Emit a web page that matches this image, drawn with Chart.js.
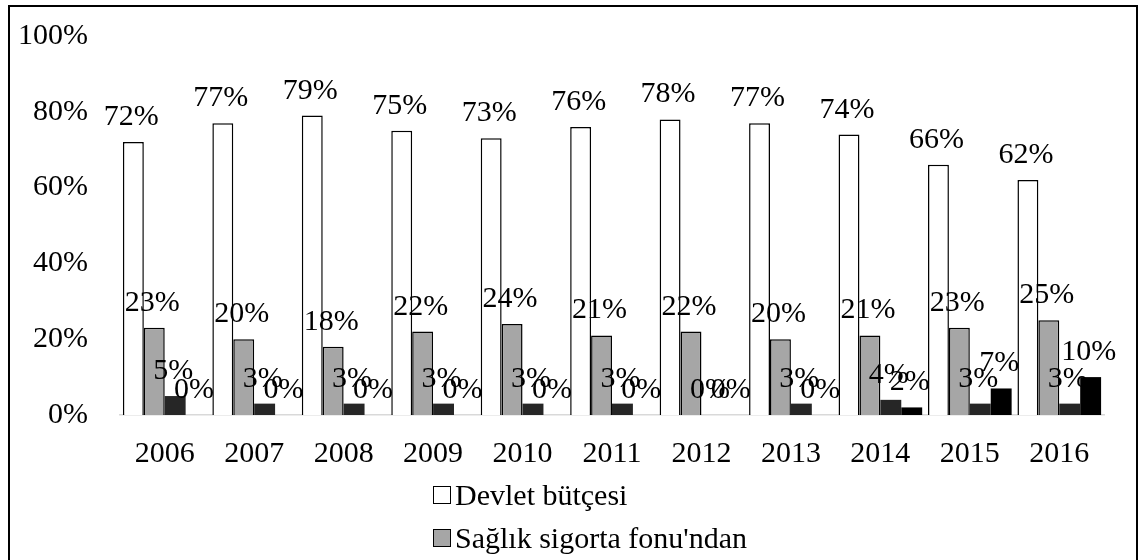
<!DOCTYPE html>
<html>
<head>
<meta charset="utf-8">
<script src="https://cdn.jsdelivr.net/npm/chart.js@4.4.1/dist/chart.umd.min.js"></script>
<style>
  html, body { margin: 0; padding: 0; background: #fff; overflow: hidden; }
  .frame {
    position: absolute; left: 8px; top: 5px;
    width: 1130px; height: 700px;
    border: 2px solid #000; box-sizing: border-box;
  }
  #wrap { position: absolute; left: 0; top: 0; width: 1126px; height: 468px; }
  .legend {
    position: absolute; left: 423px; top: 466px;
    font-family: "Liberation Serif", "Times New Roman", serif;
    font-size: 30px; color: #000;
  }
  .legend .item { display: flex; align-items: center; height: 43px; }
  .legend .box { width: 16px; height: 16px; border: 1px solid #000; margin-right: 4px; }
</style>
</head>
<body>
<div class="frame">
  <div id="wrap"><canvas id="chart"></canvas></div>
  <div class="legend" id="legend"></div>
</div>
<script>
const years = ["2006", "2007", "2008", "2009", "2010", "2011", "2012", "2013", "2014", "2015", "2016"];
const devletButcesi = [72, 77, 79, 75, 73, 76, 78, 77, 74, 66, 62];
const saglikSigorta = [23, 20, 18, 22, 24, 21, 22, 20, 21, 23, 25];
const ozelSigorta = [5, 3, 3, 3, 3, 3, 0, 3, 4, 3, 3];
const digerKaynak = [0, 0, 0, 0, 0, 0, 0, 0, 2, 7, 10];
const yTicks = [0, 20, 40, 60, 80, 100];

const serif = "'Liberation Serif', 'Times New Roman', serif";

// value labels drawn above each bar, like the original
const barLabels = {
  id: "barLabels",
  afterDatasetsDraw(chart) {
    const ctx = chart.ctx;
    ctx.save();
    ctx.font = "30px " + serif;
    ctx.fillStyle = "#000";
    ctx.textAlign = "center";
    ctx.textBaseline = "alphabetic";
    chart.data.datasets.forEach((ds, i) => {
      chart.getDatasetMeta(i).data.forEach((bar, j) => {
        ctx.fillText(ds.data[j] + "%", bar.x - 2, bar.y - 17);
      });
    });
    ctx.restore();
  },
};

const ctx = document.getElementById("chart").getContext("2d");
const chart = new Chart(ctx, {
  type: "bar",
  data: {
    labels: years,
    datasets: [
      { label: "Devlet bütçesi", data: devletButcesi, backgroundColor: "#ffffff", borderColor: "#000", borderWidth: 1.5 },
      { label: "Sağlık sigorta fonu'ndan", data: saglikSigorta, backgroundColor: "#a6a6a6", borderColor: "#000", borderWidth: 1.5 },
      { label: "Özel sigorta", data: ozelSigorta, backgroundColor: "#262626", borderColor: "#262626", borderWidth: 0 },
      { label: "Diğer", data: digerKaynak, backgroundColor: "#000000", borderColor: "#000", borderWidth: 0 },
    ],
  },
  options: {
    responsive: true,
    maintainAspectRatio: false,
    animation: false,
    layout: { padding: { top: 29, right: 32, left: 0, bottom: 0 } },
    datasets: { bar: { categoryPercentage: 0.935, barPercentage: 1.0 } },
    plugins: {
      legend: { display: false },
      tooltip: { enabled: false },
    },
    scales: {
      x: {
        grid: { display: false, drawTicks: false },
        border: { display: true, color: "#d9d9d9", width: 1.5 },
        ticks: { color: "#000", font: { family: serif, size: 30 }, padding: 21 },
        afterFit: (scale) => { scale.height = 60; },
      },
      y: {
        min: 0,
        max: 100,
        grid: { display: false, drawTicks: false },
        border: { display: false },
        afterBuildTicks: (scale) => { scale.ticks = yTicks.map((v) => ({ value: v })); },
        ticks: {
          color: "#000",
          font: { family: serif, size: 30 },
          padding: 32,
          callback: (v) => v + "%",
        },
        afterFit: (scale) => {
          scale.width = 110;
          scale.paddingTop = 0;
          scale.paddingBottom = 0;
        },
      },
    },
  },
  plugins: [barLabels],
});

const legend = document.getElementById("legend");
chart.data.datasets.forEach((ds) => {
  const item = document.createElement("div");
  item.className = "item";
  const box = document.createElement("span");
  box.className = "box";
  box.style.background = ds.backgroundColor;
  const txt = document.createElement("span");
  txt.textContent = ds.label;
  item.appendChild(box);
  item.appendChild(txt);
  legend.appendChild(item);
});
</script>
</body>
</html>
